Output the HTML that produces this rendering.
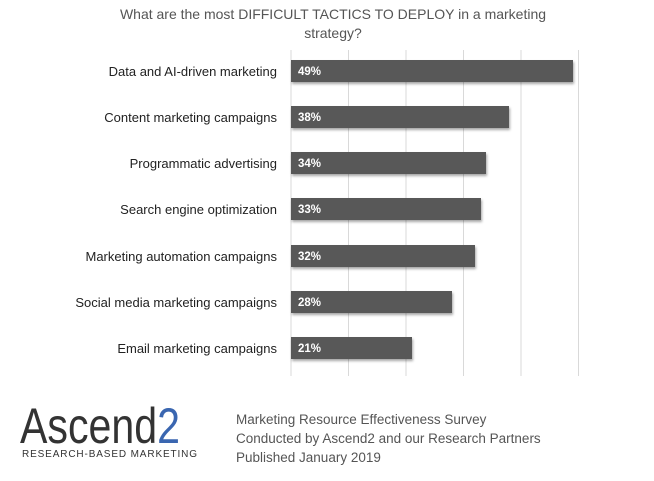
<!DOCTYPE html>
<html><head><style>
body{margin:0;width:654px;height:476px;background:#fff;font-family:"Liberation Sans",sans-serif;overflow:hidden}
</style></head><body>
<svg width="654" height="476" xmlns="http://www.w3.org/2000/svg" font-family="Liberation Sans, sans-serif">
<defs><filter id="s" x="-5%" y="-20%" width="110%" height="160%"><feDropShadow dx="1" dy="2" stdDeviation="1.2" flood-color="#000" flood-opacity="0.35"/></filter></defs>
<text x="333" y="19" font-size="14" fill="#555" text-anchor="middle">What are the most DIFFICULT TACTICS TO DEPLOY in a marketing</text>
<text x="333" y="38" font-size="14" fill="#555" text-anchor="middle">strategy?</text>
<g stroke="#d9d9d9" stroke-width="1">
<line x1="291" y1="50" x2="291" y2="376"/><line x1="348.5" y1="50" x2="348.5" y2="376"/><line x1="406" y1="50" x2="406" y2="376"/><line x1="463.5" y1="50" x2="463.5" y2="376"/><line x1="521" y1="50" x2="521" y2="376"/><line x1="578.5" y1="50" x2="578.5" y2="376"/>
</g>
<g fill="#595959" filter="url(#s)">
<rect x="291" y="60" width="282" height="22"/>
<rect x="291" y="106" width="218" height="22"/>
<rect x="291" y="152" width="195" height="22"/>
<rect x="291" y="198" width="190" height="22"/>
<rect x="291" y="245" width="184" height="22"/>
<rect x="291" y="291" width="161" height="22"/>
<rect x="291" y="337" width="121" height="22"/>
</g>
<g fill="#fff" font-size="11.5" font-weight="bold">
<text x="298" y="75">49%</text><text x="298" y="121">38%</text><text x="298" y="167">34%</text><text x="298" y="213">33%</text><text x="298" y="260">32%</text><text x="298" y="306">28%</text><text x="298" y="352">21%</text>
</g>
<g fill="#222" font-size="13" text-anchor="end">
<text x="277" y="76">Data and AI-driven marketing</text>
<text x="277" y="122">Content marketing campaigns</text>
<text x="277" y="168">Programmatic advertising</text>
<text x="277" y="214">Search engine optimization</text>
<text x="277" y="261">Marketing automation campaigns</text>
<text x="277" y="307">Social media marketing campaigns</text>
<text x="277" y="353">Email marketing campaigns</text>
</g>
<text x="20" y="443" font-family="Liberation Sans Narrow, Liberation Sans, sans-serif" font-size="50" fill="#333" textLength="160" lengthAdjust="spacingAndGlyphs">Ascend<tspan fill="#3a66b0">2</tspan></text>
<text x="22" y="457" font-size="10" fill="#333" textLength="175" lengthAdjust="spacing">RESEARCH-BASED MARKETING</text>
<g fill="#555" font-size="13.5">
<text x="236" y="424">Marketing Resource Effectiveness  Survey</text>
<text x="236" y="443">Conducted by Ascend2 and our Research Partners</text>
<text x="236" y="462">Published January 2019</text>
</g>
</svg>
</body></html>
